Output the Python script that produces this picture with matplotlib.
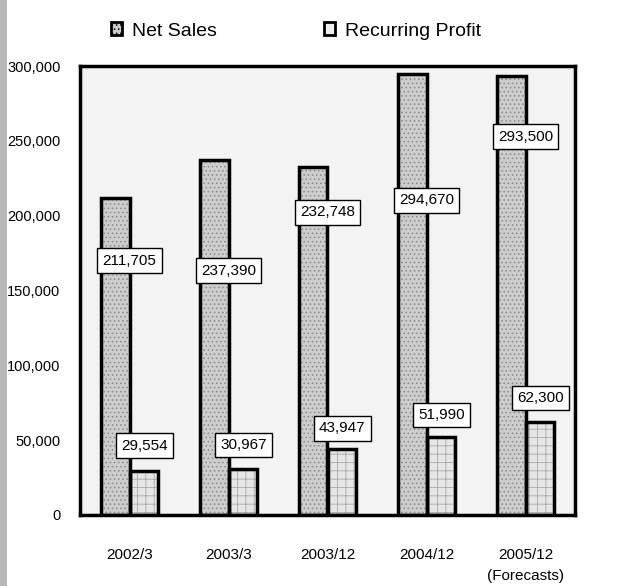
import numpy as np
import matplotlib as mpl
import matplotlib.pyplot as plt
from matplotlib.patches import Rectangle, Patch

periods = ["2002/3", "2003/3", "2003/12", "2004/12", "2005/12\n(Forecasts)"]
net_sales = [211705, 237390, 232748, 294670, 293500]
recurring_profit = [29554, 30967, 43947, 51990, 62300]
y_ticks = [0, 50000, 100000, 150000, 200000, 250000, 300000]

# label offsets in points relative to bar top (style only)
sales_label_dy = [-45, -80, -33, -91, -44]
profit_label_dy = [18, 17, 15, 16, 17]

mpl.rcParams["font.family"] = ["Liberation Sans", "DejaVu Sans"]
mpl.rcParams["hatch.linewidth"] = 0.6

fig = plt.figure(figsize=(6.22, 5.86), dpi=100)
ax = fig.add_axes([80/622, 71/586, 495/622, 449/586])

# scanned gray strip on the left edge
fig.patches.append(Rectangle((0, 0), 7/622, 1, transform=fig.transFigure,
                             facecolor="#b8b8b8", edgecolor="none", zorder=0))

ax.set_facecolor("#f3f3f3")
x = np.arange(len(periods))
w = 0.285

ax.bar(x - w/2, net_sales, width=w, color="#cdcdcd", edgecolor="#8a8a8a",
       hatch="....", linewidth=0, zorder=2)
ax.bar(x - w/2, net_sales, width=w, fill=False, edgecolor="black",
       linewidth=2.5, zorder=3)
ax.bar(x + w/2, recurring_profit, width=w, color="#e6e6e6", edgecolor="#a8a8a8",
       hatch="++", linewidth=0, zorder=2)
ax.bar(x + w/2, recurring_profit, width=w, fill=False, edgecolor="black",
       linewidth=2.5, zorder=3)

box = dict(boxstyle="square,pad=0.35", facecolor="white", edgecolor="black", linewidth=1.0)
for i, v in enumerate(net_sales):
    ax.annotate(f"{v:,}", (x[i], v), xytext=(0, sales_label_dy[i]),
                textcoords="offset points", ha="center", va="center",
                fontsize=11, bbox=box, zorder=5)
for i, v in enumerate(recurring_profit):
    ax.annotate(f"{v:,}", (x[i] + 0.15, v), xytext=(0, profit_label_dy[i]),
                textcoords="offset points", ha="center", va="center",
                fontsize=11, bbox=box, zorder=5)

ax.set_xlim(-0.5, len(periods) - 0.5)
ax.set_ylim(0, 300000)
ax.set_yticks(y_ticks)
ax.set_yticklabels([f"{t:,}" for t in y_ticks], fontsize=10.5)
ax.set_xticks(x)
ax.set_xticklabels(periods, fontsize=11, linespacing=1.6, va="top")
ax.tick_params(axis="y", length=0, pad=14)
ax.tick_params(axis="x", length=0, pad=24)
for sp in ax.spines.values():
    sp.set_linewidth(2.5)

handles = [Patch(facecolor="#cdcdcd", edgecolor="black", linewidth=2, hatch="...."),
           Patch(facecolor="#f0f0f0", edgecolor="black", linewidth=2)]
fig.legend(handles, ["Net Sales", "Recurring Profit"], loc="upper left",
           bbox_to_anchor=(93/622, 1 - 5/586), ncol=2, frameon=False,
           fontsize=14, handlelength=0.6, handleheight=0.6, handletextpad=0.5,
           columnspacing=5.5)

fig.savefig("out.png", dpi=100)
